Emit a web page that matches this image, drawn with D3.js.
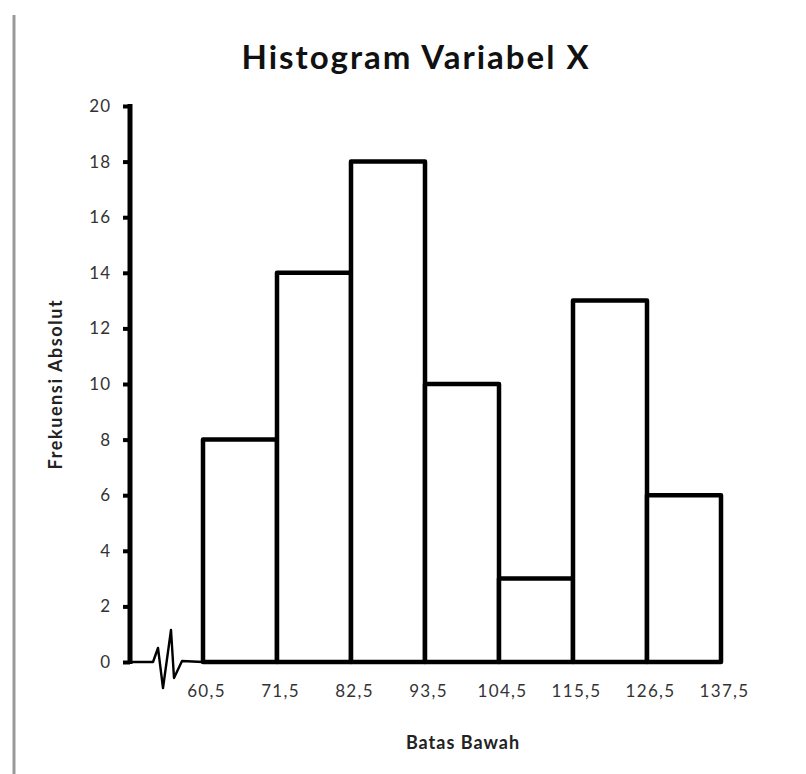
<!DOCTYPE html>
<html>
<head>
<meta charset="utf-8">
<script src="https://cdn.jsdelivr.net/npm/d3@7"></script>
<style>
  html, body { margin: 0; padding: 0; background: #fff; }
  svg { display: block; }
  text { font-family: Lato, "Open Sans", sans-serif; }
</style>
</head>
<body>
<script>
const boundaries = [60.5, 71.5, 82.5, 93.5, 104.5, 115.5, 126.5, 137.5];
const boundaryLabels = ["60,5", "71,5", "82,5", "93,5", "104,5", "115,5", "126,5", "137,5"];
const frequencies = [8, 14, 18, 10, 3, 13, 6];
const yTicks = [0, 2, 4, 6, 8, 10, 12, 14, 16, 18, 20];
const title = "Histogram Variabel X";
const xTitle = "Batas Bawah";
const yTitle = "Frekuensi Absolut";

const W = 806, H = 774;
const svg = d3.select("body").append("svg").attr("width", W).attr("height", H);

// left grey border line
svg.append("line").attr("x1", 14).attr("x2", 14).attr("y1", 15).attr("y2", H)
  .attr("stroke", "#9a9a9a").attr("stroke-width", 3);

const x = d3.scaleLinear().domain([60.5, 137.5]).range([203, 721]);
const y = d3.scaleLinear().domain([0, 20]).range([662, 106]);
const axisX = 130;

// title
svg.append("text").attr("x", 416).attr("y", 69).attr("text-anchor", "middle")
  .attr("font-size", 33).attr("font-weight", "bold").attr("letter-spacing", 2)
  .attr("fill", "#111").text(title);

// baseline with break
const baseY = y(0);
const breakPts = [[axisX, 0], [153, 0], [158, 14], [163, -26], [171, 32], [174, -16], [182, 1], [203, 0]];
svg.append("path")
  .attr("d", d3.line()(breakPts.map(p => [p[0], baseY - p[1]])))
  .attr("fill", "none").attr("stroke", "#000").attr("stroke-width", 2.4).attr("stroke-linejoin", "round");
svg.append("line").attr("x1", x(60.5)).attr("x2", x(137.5)).attr("y1", baseY).attr("y2", baseY)
  .attr("stroke", "#000").attr("stroke-width", 2);

// bars
const bins = frequencies.map((f, i) => ({ x0: boundaries[i], x1: boundaries[i + 1], f }));
svg.append("g").selectAll("rect").data(bins).join("rect")
  .attr("x", d => x(d.x0)).attr("width", d => x(d.x1) - x(d.x0))
  .attr("y", d => y(d.f)).attr("height", d => y(0) - y(d.f))
  .attr("fill", "#fff").attr("stroke", "#000").attr("stroke-width", 4.5)
  .attr("stroke-linejoin", "round");

// y axis
const yAxis = d3.axisLeft(y).tickValues(yTicks).tickSize(7).tickPadding(12).tickFormat(d3.format("d"));
const gy = svg.append("g").attr("transform", `translate(${axisX},0)`).call(yAxis);
gy.select(".domain").attr("stroke", "#000").attr("stroke-width", 5).attr("d", `M0,${y(20) - 2}V${y(0) + 2}`);
gy.selectAll(".tick line").attr("stroke", "#000").attr("stroke-width", 4);
gy.selectAll(".tick text").attr("font-size", 17).attr("letter-spacing", 1).attr("fill", "#333")
  .attr("font-family", "Lato, sans-serif");

// x tick labels
const xAxis = d3.axisBottom(x).tickValues(boundaries).tickSize(0).tickPadding(23)
  .tickFormat((d, i) => boundaryLabels[i]);
const gx = svg.append("g").attr("transform", `translate(3,${baseY})`).call(xAxis);
gx.select(".domain").remove();
gx.selectAll(".tick text").attr("font-size", 17).attr("letter-spacing", 1.3).attr("fill", "#333")
  .attr("font-family", "Lato, sans-serif");

// axis titles
svg.append("text").attr("x", 463).attr("y", 749).attr("text-anchor", "middle")
  .attr("font-size", 18).attr("font-weight", "bold").attr("letter-spacing", 1).attr("fill", "#222").text(xTitle);
svg.append("text").attr("transform", `translate(62,384) rotate(-90)`).attr("text-anchor", "middle")
  .attr("font-size", 18).attr("font-weight", "bold").attr("letter-spacing", 1.6).attr("fill", "#222").text(yTitle);
</script>
</body>
</html>
